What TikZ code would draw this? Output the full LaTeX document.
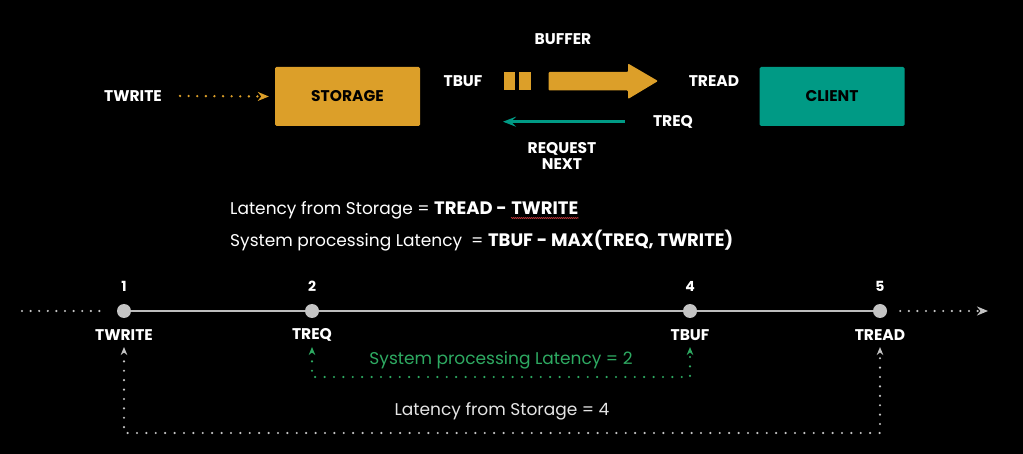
\documentclass[tikz,border=0pt]{standalone}
\usepackage{fontspec}
\setmainfont{Poppins}
\usetikzlibrary{arrows.meta,decorations.pathmorphing}
\definecolor{gold}{HTML}{DC9F29}
\definecolor{tealc}{HTML}{009A85}
\definecolor{dotgrey}{HTML}{C4C4C4}
\definecolor{linegrey}{HTML}{BDBDBD}
\definecolor{greenc}{HTML}{2EAA62}
\definecolor{spell}{HTML}{C0393B}
\newcommand{\fbig}[1]{{\fontsize{18}{22}\selectfont\bfseries #1}}
\tikzset{
  lbl/.style={text=white, font=\fontsize{15.5}{18}\selectfont\bfseries, inner sep=0pt},
  boxnode/.style={minimum width=145pt, minimum height=59pt, rounded corners=1.5pt, font=\fontsize{15.5}{18}\selectfont\bfseries, text=black},
  formula/.style={text=white, font=\fontsize{17}{22}\selectfont, inner sep=0pt},
  dotline/.style={line width=2.6pt, line cap=round, dash pattern=on 0pt off 8.6pt},
  tip/.style={-{Stealth[length=11pt,width=9pt,inset=3.5pt]}},
  smalltip/.style={{Stealth[length=8pt,width=6.5pt,inset=2.5pt]}-{Stealth[length=8pt,width=6.5pt,inset=2.5pt]}},
  tdot/.style={circle, fill=dotgrey, minimum size=14pt, inner sep=0pt},
  num/.style={text=white, font=\fontsize{14}{16}\selectfont\bfseries, inner sep=0pt},
}
\begin{document}
\begin{tikzpicture}[x=1pt,y=-1pt]
\fill[black] (0,0) rectangle (1023,454);
\useasboundingbox (0,0) rectangle (1023,454);

% top row
\node[lbl] (tw) at (133,96) {TWRITE};
\node[boxnode, fill=gold] (storage) at (347.5,96.5) {STORAGE};
\node[boxnode, fill=tealc] (client) at (832,96.5) {CLIENT};
\draw[dotline, gold, tip] ([xshift=18pt]tw.east) -- ([xshift=-6pt]storage.west);

\node[lbl] (tbuf) at (463,81) {TBUF};
\node[lbl] (buffer) at (563,39) {BUFFER};
\node[lbl] (tread) at (714,81) {TREAD};
\node[lbl] (treq) at (673,122) {TREQ};
\node[lbl, align=center, font=\fontsize{15.5}{16}\selectfont\bfseries] (reqnext) at (562,156) {REQUEST\\NEXT};

\fill[gold] (503.5,72) rectangle (515,90);
\fill[gold] (519,72) rectangle (530.5,90);
\fill[gold, rounded corners=1pt] (548.5,72) -- (628,72) -- (628,63.5) -- (658,81) -- (628,99) -- (628,90.5) -- (548.5,90.5) -- cycle;

\draw[tealc, line width=2.5pt, -{Stealth[length=13pt,width=10pt,inset=5pt]}] ([xshift=-28pt]treq.west |- 0,121.7) -- (503,121.7);

% formulas
\node[formula, anchor=base west] (f1a) at (230,215) {Latency from Storage = \fbig{TREAD -}};
\node[formula, anchor=base west, font=\fontsize{18}{22}\selectfont\bfseries] (f1b) at ([xshift=4pt]f1a.base east) {TWRITE};
\draw[spell, line width=0.6pt, decorate, decoration={zigzag, amplitude=0.5pt, segment length=2pt}] ([yshift=-3pt]f1b.base west) -- ([yshift=-3pt]f1b.base east);
\node[formula, anchor=base west] (f2) at (230,246.5) {System processing Latency \ = \fbig{TBUF - MAX(TREQ, TWRITE)}};

% timeline
\node[tdot] (p1) at (124,311) {};
\node[tdot] (p2) at (312,311) {};
\node[tdot] (p4) at (690,311) {};
\node[tdot] (p5) at (880,311) {};
\coordinate (lstart) at (22,311);
\coordinate (rend) at (988,311);
\draw[linegrey, line width=2.5pt] (p1) -- (p2) -- (p4) -- (p5);
\draw[dotline, dotgrey, line width=2.4pt] (lstart) -- ([xshift=-9pt]p1.west);
\draw[dotline, dotgrey, line width=2.4pt, tip] ([xshift=13pt]p5.east) -- (rend);

\node[num] at (124,286) {1};
\node[num] at (312,286) {2};
\node[num] at (690,286) {4};
\node[num] at (880,286) {5};

\node[lbl] (l1) at (124,335) {TWRITE};
\node[lbl] (l2) at (312,335) {TREQ};
\node[lbl] (l4) at (690,335) {TBUF};
\node[lbl] (l5) at (880,335) {TREAD};

\draw[greenc, line width=2.4pt, line cap=round, dash pattern=on 0pt off 9.4pt, smalltip] (l2 |- 0,347) -- (l2 |- 0,377) -| (l4 |- 0,347);
\draw[dotgrey, line width=2.4pt, line cap=round, dash pattern=on 0pt off 9.4pt, smalltip] (l1 |- 0,347) -- (l1 |- 0,433) -| (l5 |- 0,347);

\node[formula, text=greenc, font=\fontsize{17}{20}\selectfont] (g) at (501,360) {System processing Latency = 2};
\node[formula, text=white!90!black, font=\fontsize{17}{20}\selectfont] (w) at (502,411) {Latency from Storage = 4};
\end{tikzpicture}
\end{document}
